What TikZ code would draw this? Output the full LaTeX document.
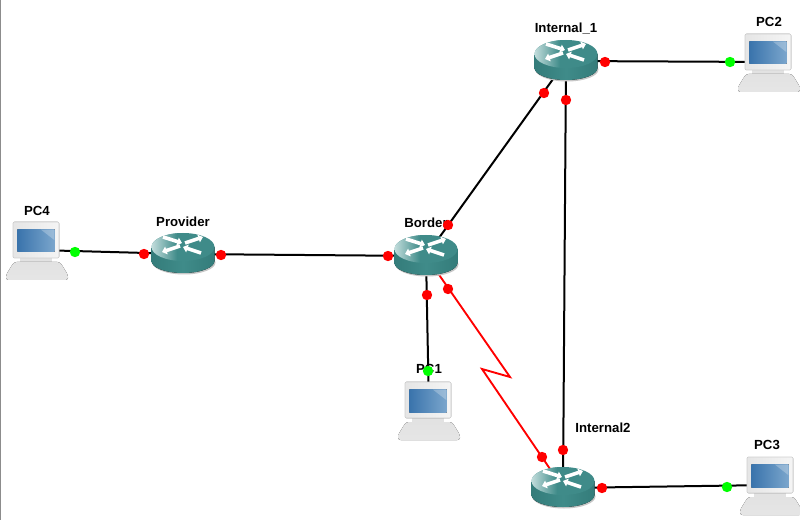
\documentclass[tikz,border=0pt]{standalone}
\usepackage{fontspec}
\setmainfont{Liberation Sans}
\usetikzlibrary{arrows.meta,calc}
\definecolor{teal}{HTML}{3F8B89}
\definecolor{tealdark}{HTML}{347C7A}
\definecolor{teallight}{HTML}{C4DEDD}
\definecolor{pcgrey}{HTML}{E2E2E2}
\definecolor{pcedge}{HTML}{CFCFCF}
\definecolor{screenblue}{HTML}{7AA5CC}
\definecolor{screendark}{HTML}{3A74AC}
\tikzset{
  x=0.75pt,y=-0.75pt,
  hostlabel/.style={font=\bfseries\fontsize{9.9}{10}\selectfont,inner sep=0pt,text=black},
  link/.style={line width=1.5pt,black},
  seriallink/.style={line width=1.4pt,red},
  portup/.style={circle,fill=red,draw=none,minimum size=7.8pt,inner sep=0pt},
  porthost/.style={circle,fill=green,draw=none,minimum size=7.8pt,inner sep=0pt},
  routerarrow/.style={white,line width=2.7pt,-{Triangle[length=3.5pt,width=6pt]}},
  router/.pic={
    % soft ground shadow
    \fill[black!22] (1,8.5) ellipse[x radius=31.5,y radius=12];
    % cylinder body
    \fill[left color=tealdark,right color=tealdark,middle color=teal]
      (-31.5,-7) -- (-31.5,7) arc[start angle=180,end angle=0,x radius=31.5,y radius=12] -- (31.5,-7) -- cycle;
    % top face
    \fill[teal] (0,-7) ellipse[x radius=31.5,y radius=14];
    \begin{scope}
      \clip (0,-7) ellipse[x radius=31.5,y radius=14];
      \shade[left color=teallight,right color=teal] (-32,-22) rectangle (-6,8);
    \end{scope}
    % crossing arrows
    \draw[routerarrow] (-20,-17) -- (-1,-11);
    \draw[routerarrow] (2,-11) -- (20,-17);
    \draw[routerarrow] (-3,-8) -- (-21,-2);
    \draw[routerarrow] (18,-1) -- (0,-7);
  },
  computer/.pic={
    % keyboard and stand
    \fill[pcgrey] (-17,6) rectangle (15,13);
    \fill[top color=pcgrey,bottom color=white!90!black,rounded corners=2pt]
      (-23,12) -- (23,12) -- (31,25) -- (31,30) -- (-31,30) -- (-31,25) -- cycle;
    % monitor
    \fill[left color=white!90!black,right color=white!96!black,draw=pcedge,line width=0.4pt,rounded corners=1pt]
      (-24,-28) rectangle (22,8);
    \fill[black!50] (-20,-21) rectangle (18,2.5);
    \fill[left color=screendark,right color=screenblue] (-19.3,-20.3) rectangle (17.3,2);
    \fill[white,opacity=.25] (4,-20.3) -- (17.3,-20.3) -- (17.3,-10) -- cycle;
  }
}
\begin{document}
\begin{tikzpicture}
\useasboundingbox (0,0) rectangle (800,520);
\fill[white] (0,0) rectangle (800,520);
\fill[black!45] (0,0) rectangle (1.3,520);

% device positions
\coordinate (pcfour) at (37,250);
\coordinate (provider) at (183,254);
\coordinate (border) at (426,256);
\coordinate (internalone) at (566,61);
\coordinate (internaltwo) at (563,488);
\coordinate (pctwo) at (769,62);
\coordinate (pcone) at (429,410);
\coordinate (pcthree) at (771,485);
\coordinate (zigup) at (510,377);
\coordinate (zigdown) at (482,369);

% device names
\node[hostlabel] (lblpcfour) at (37,211) {PC4};
\node[hostlabel] (lblprovider) at (183,222) {Provider};
\node[hostlabel] (lblborder) at (426,223) {Border};
\node[hostlabel] (lblinternalone) at (566,29) {Internal\_1};
\node[hostlabel] (lblinternaltwo) at (603,428) {Internal2};
\node[hostlabel] (lblpctwo) at (769,22) {PC2};
\node[hostlabel] (lblpcone) at (429,369) {PC1};
\node[hostlabel] (lblpcthree) at (767,445) {PC3};

% links
\draw[link] (pcfour) -- (provider);
\draw[link] (provider) -- (border);
\draw[link] (border) -- (internalone);
\draw[link] (internalone) -- (internaltwo);
\draw[link] (internalone) -- (pctwo);
\draw[link] (border) -- (pcone);
\draw[link] (internaltwo) -- (pcthree);
\draw[seriallink] (border) -- (zigup) -- (zigdown) -- (internaltwo);

% equipment icons
\pic at (provider) {router};
\pic at (border) {router};
\pic at (internalone) {router};
\pic at (internaltwo) {router};
\pic at (pcfour) {computer};
\pic at (pctwo) {computer};
\pic at (pcone) {computer};
\pic at (pcthree) {computer};

% interface status markers
\node[porthost] (pfour) at (75,252) {};
\node[portup] (pa) at (144,254) {};
\node[portup] (pb) at (221,255) {};
\node[portup] (pc) at (388,256) {};
\node[portup] (pd) at (448,225) {};
\node[portup] (pe) at (544,93) {};
\node[portup] (pf) at (566,100) {};
\node[portup] (pg) at (563,450) {};
\node[portup] (ph) at (605,62) {};
\node[porthost] (pi) at (730,62) {};
\node[portup] (pj) at (427,295) {};
\node[porthost] (pk) at (428,371) {};
\node[portup] (pl) at (448,289) {};
\node[portup] (pm) at (542,457) {};
\node[portup] (pn) at (602,488) {};
\node[porthost] (po) at (727,487) {};
\end{tikzpicture}
\end{document}
